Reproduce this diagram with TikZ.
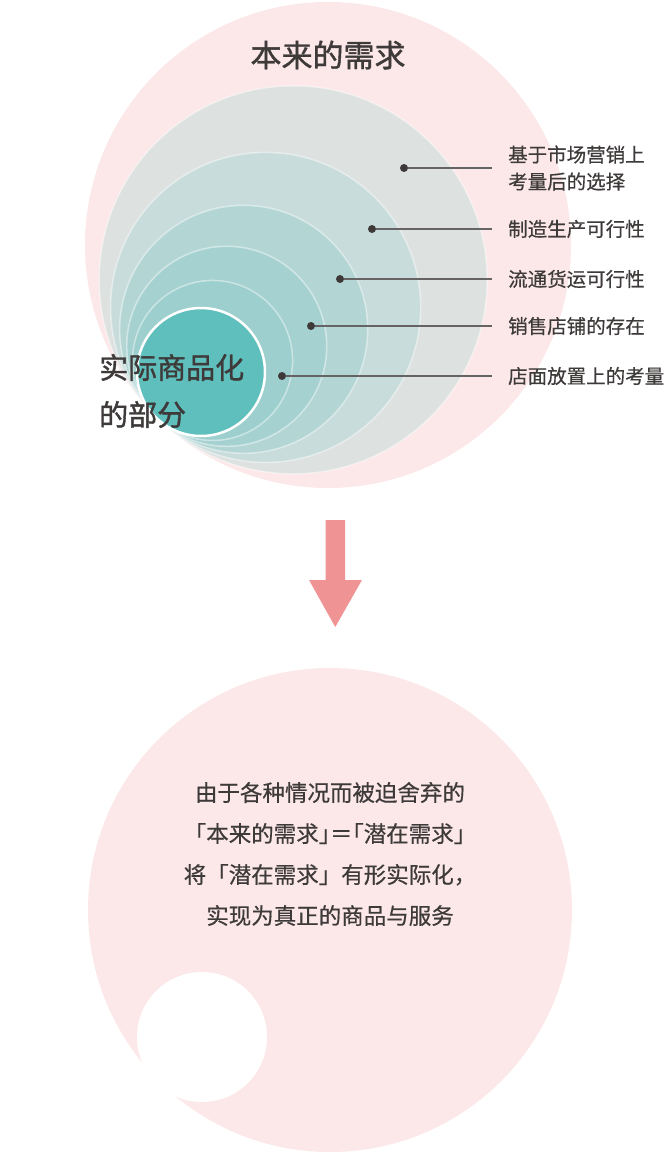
\documentclass[tikz,border=0pt]{standalone}
\usepackage{fontspec}
\newfontfamily\cjk[FakeBold=0.5]{Noto Sans CJK SC}
\newfontfamily\cjkheavy[FakeBold=1.3]{Noto Sans CJK SC}
\newfontfamily\cjkhalt[FakeBold=0.5,RawFeature=+halt]{Noto Sans CJK SC}
\definecolor{pinkbg}{HTML}{FCE8E9}
\definecolor{ringa}{HTML}{DDE1E0}
\definecolor{ringb}{HTML}{C7DCDB}
\definecolor{ringc}{HTML}{B3D6D5}
\definecolor{ringd}{HTML}{A5D1D0}
\definecolor{ringe}{HTML}{9CCFCD}
\definecolor{coreteal}{HTML}{5EBFBC}
\definecolor{textdark}{HTML}{3E3A3A}
\definecolor{leadergray}{HTML}{656363}
\definecolor{arrowpink}{HTML}{F09394}
\begin{document}
\begin{tikzpicture}
[x=1pt,y=-1pt,
  nodedecorate/.style={shape=circle,inner sep=0pt,minimum size=8pt,fill=textdark},
  labeldecorate/.style={anchor=west,inner xsep=16pt,inner ysep=0pt,align=left,text=textdark,font=\cjk\fontsize{19.5}{27}\selectfont},
  linedecorate/.style={-,line width=1.8pt,draw=leadergray},
  ringdecorate/.style={draw=white,draw opacity=0.45,line width=1.5pt}]
\useasboundingbox (0,0) rectangle (670,1156);
%% nested circles, all touching at the lower left
\fill[pinkbg] (328,245) circle[radius=243pt];
\foreach \r/\col in {194/ringa, 155/ringb, 124/ringc, 100/ringd, 80/ringe} {
  \filldraw[ringdecorate,fill=\col] ({156+0.7071*\r},{417-0.7071*\r}) circle[radius=\r pt];
}
\filldraw[fill=coreteal,draw=white,line width=2.5pt] (201,372) circle[radius=64pt];
%% titles
\node (need) at (328,55) [text=textdark,font=\cjkheavy\fontsize{31}{31}\selectfont] {本来的需求};
\node (real) at (99,391) [anchor=west,align=left,inner sep=0pt,text=textdark,font=\cjkheavy\fontsize{29}{47}\selectfont] {实际商品化\\的部分};
%% dots and labels
\foreach \nodename/\x/\y/\txt in {a/404/168/基于市场营销上\\考量后的选择, b/372/229/制造生产可行性, c/340/279/流通货运可行性, d/311/326/销售店铺的存在, e/282/376/店面放置上的考量} {
  \node (dot\nodename) at (\x,\y) [nodedecorate] {};
  \node (lab\nodename) at (492,\y) [labeldecorate] {\txt};
}
%% leader lines
\path
\foreach \nodename in {a,b,c,d,e} {
  (dot\nodename) edge[linedecorate] (lab\nodename)
};
%% arrow
\fill[arrowpink] (325.5,520) -- (345,520) -- (345,580) -- (362,580) -- (335.25,627) -- (309,580) -- (325.5,580) -- cycle;
%% lower circle
\fill[pinkbg] (330,910) circle[radius=242pt];
\fill[white] (202,1037) circle[radius=65pt];
\node (latent) at (330,854) [align=center,text=textdark,font=\cjk\fontsize{22.5}{41}\selectfont] {由于各种情况而被迫舍弃的\\{\cjkhalt 「}本来的需求{\cjkhalt 」}＝{\cjkhalt 「}潜在需求{\cjkhalt 」}\\将「潜在需求」有形实际化，\\实现为真正的商品与服务};
\end{tikzpicture}
\end{document}
